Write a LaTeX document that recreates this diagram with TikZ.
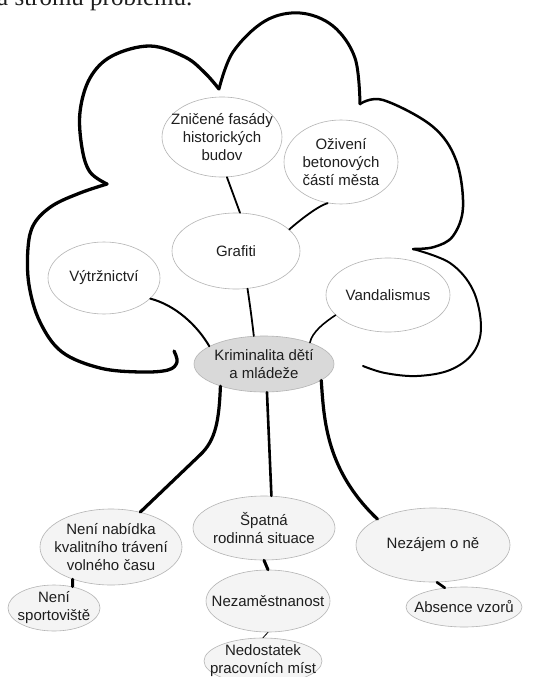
\documentclass[tikz,border=0pt]{standalone}
\usepackage{fontspec}
\setmainfont{Liberation Sans}
\newfontfamily\serifx{Liberation Serif}
\usetikzlibrary{shapes.geometric}
\definecolor{bubedge}{HTML}{B4B4B4}
\definecolor{bubfill}{HTML}{F4F4F4}
\definecolor{corefill}{HTML}{D9D9D9}
\definecolor{ink}{HTML}{1E1E1E}
\tikzset{
  bub/.style 2 args={ellipse, draw=bubedge, line width=0.6pt, fill=bubfill,
    inner sep=0pt, minimum width=#1, minimum height=#2},
  txt/.style={inner sep=0pt, align=center, text=ink, font=\fontsize{15}{18}\selectfont},
  cloudline/.style={line width=#1, line cap=round, line join=round, black},
  conn/.style={line width=#1, line cap=round, black},
}
\begin{document}
\begin{tikzpicture}[x=1pt,y=-1pt]
\useasboundingbox (0,0) rectangle (554,677);
\clip (0,0) rectangle (554,677);
\fill[white] (0,0) rectangle (554,677);

% cut-off caption line at the top
\node[anchor=base west, inner sep=0pt, font=\serifx\fontsize{25}{25}\selectfont, text=ink] (caption) at (-3,6) {a stromu problému.};

% cloud outline
\draw[cloudline=3.3pt] plot[smooth, tension=0.6] coordinates {(174,351) (177,362) (168,370) (140,372) (100,368) (62,352) (40,322) (29,285) (28,248) (34,224) (52,206) (80,193) (107,184)};
\draw[cloudline=3.3pt] plot[smooth, tension=0.6] coordinates {(107,184) (90,172) (82,148) (80,112) (90,78) (112,56) (150,46) (185,57) (205,73) (219,89)};
\draw[cloudline=3pt] plot[smooth, tension=0.6] coordinates {(219,89) (233,52) (265,21) (300,13) (333,26) (355,58) (360,104)};
\draw[cloudline=2.5pt] plot[smooth, tension=0.6] coordinates {(360,104) (383,100) (432,126) (456,160) (463,207) (453,236) (434,247) (413,249)};
\draw[cloudline=2pt] plot[smooth, tension=0.6] coordinates {(413,249) (450,263) (473,290) (481,327) (473,353) (450,370) (417,376) (385,373) (363,366)};

% bubbles (shapes)
\node[bub={120}{80}, fill=white] (zn) at (222,137) {};
\node[bub={114}{84}, fill=white] (oz) at (341,162) {};
\node[bub={128}{76}, fill=white] (gr) at (236,251) {};
\node[bub={112}{72}, fill=white] (vy) at (104,278) {};
\node[bub={124}{74}, fill=white] (va) at (388,295) {};
\node[bub={140}{56}, fill=corefill] (kr) at (264,364) {};
\node[bub={142}{76}] (nn) at (111,547) {};
\node[bub={142}{64}] (sp) at (264,528) {};
\node[bub={154}{74}] (nz) at (433,545) {};
\node[bub={92}{46}] (ns) at (54,608) {};
\node[bub={124}{62}] (ne) at (268,601) {};
\node[bub={118}{46}] (nd) at (263,661) {};
\node[bub={116}{40}] (ab) at (464,607) {};

% bubble texts
\node[txt] (znt) at (zn) {Zničené fasády\\historických\\budov};
\node[txt] (ozt) at (oz) {Oživení\\betonových\\částí města};
\node[txt] (grt) at (gr) {Grafiti};
\node[txt] (vyt) at (vy) {Výtržnictví};
\node[txt] (vat) at (va) {Vandalismus};
\node[txt] (krt) at (kr) {Kriminalita dětí\\a mládeže};
\node[txt] (nnt) at (nn) {Není nabídka\\kvalitního trávení\\volného času};
\node[txt] (spt) at (sp) {Špatná\\rodinná situace};
\node[txt] (nzt) at (nz) {Nezájem o ně};
\node[txt] (nst) at (ns) {Není\\sportoviště};
\node[txt] (net) at (ne) {Nezaměstnanost};
\node[txt] (ndt) at (nd) {Nedostatek\\pracovních míst};
\node[txt] (abt) at (ab) {Absence vzorů};

% connectors in the crown
\draw[conn=1.8pt] (zn.-83) -- (gr.84);
\draw[conn=1.8pt] (oz.-108) .. controls (318,206) and (300,220) .. (gr.22);
\draw[conn=1.8pt] (gr.-73) .. controls (250,305) and (252,320) .. (kr.110);
\draw[conn=2pt] (vy.-24) .. controls (175,305) and (197,325) .. (kr.162);
\draw[conn=1.6pt] (va.-159) .. controls (325,322) and (312,332) .. (kr.25);

% roots
\draw[conn=3.2pt] (kr.207) .. controls (219,420) and (216,440) .. (200,455) -- (nn.50);
\draw[conn=2.6pt] (kr.-84) -- (sp.77);
\draw[conn=3.2pt] (kr.-16) .. controls (324,420) and (326,470) .. (nz.155);
\draw[conn=3pt] (nn.220) -- (ns.49);
\draw[conn=3pt] (sp.-90) -- (ne.90);
\draw[conn=0.8pt] (ne.-90) -- (nd.90);
\draw[conn=2.6pt] (nz.-84) -- (ab.135);
\end{tikzpicture}
\end{document}
